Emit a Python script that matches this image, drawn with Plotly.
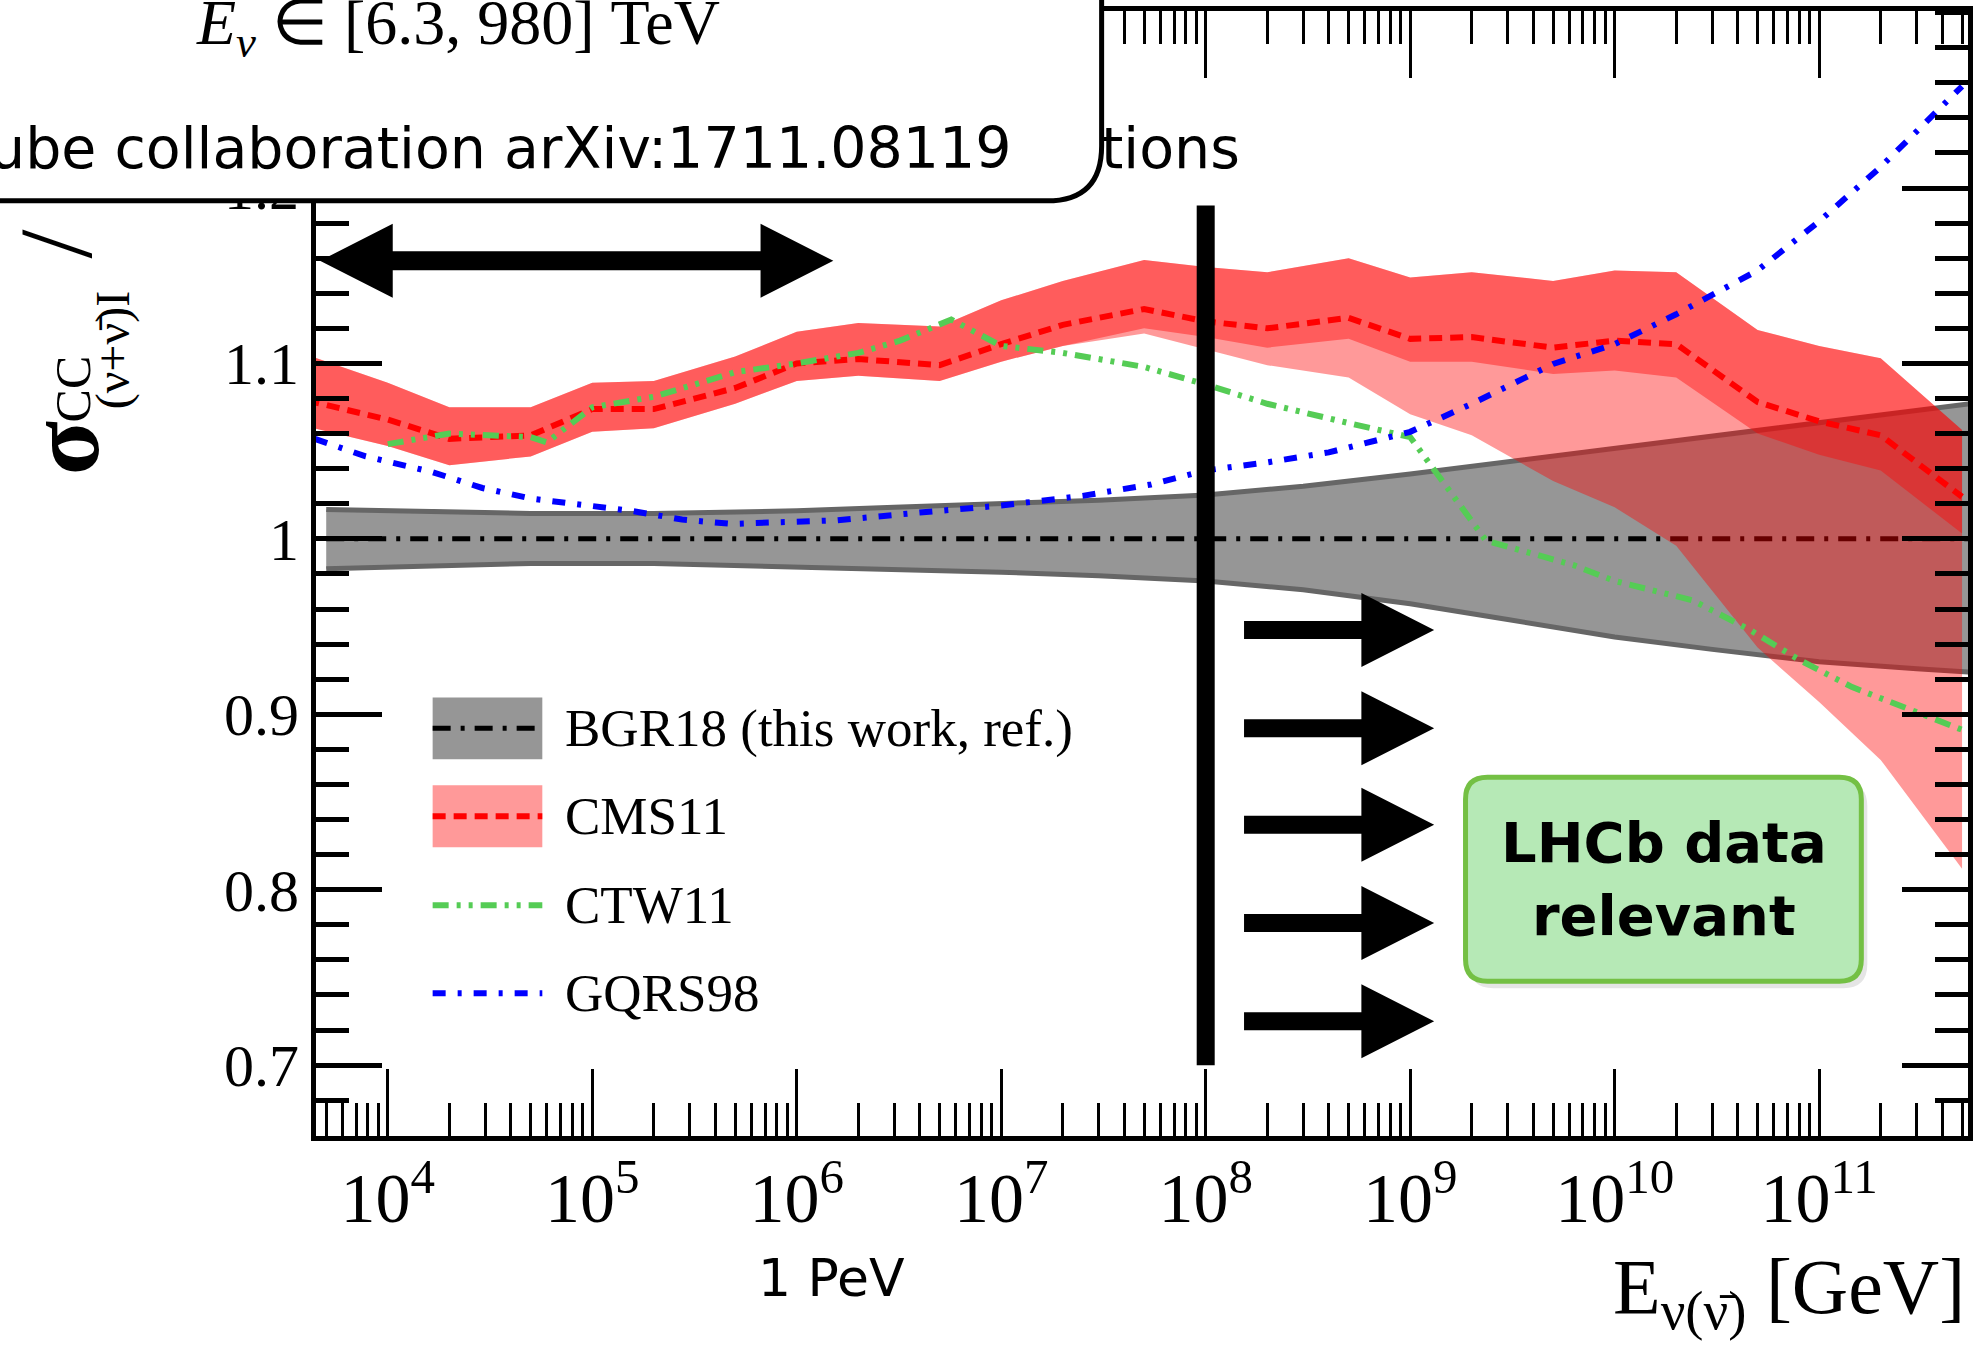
import math
import plotly.graph_objects as go

# ---------------- data ----------------
# BGR18 reference band (ratio to BGR18 central value)
bgr_E = [5e3, 2e4, 5e4, 2e5, 1e6, 3e6, 1e7, 3e7, 1e8, 3e8, 1e9, 3e9, 1e10, 3e10, 1e11, 3e11, 5.5e11]
bgr_up = [1.0168, 1.0155, 1.0145, 1.0145, 1.016, 1.018, 1.020, 1.022, 1.025, 1.030, 1.037, 1.044,
          1.052, 1.059, 1.066, 1.073, 1.077]
bgr_lo = [0.983, 0.985, 0.986, 0.986, 0.984, 0.9825, 0.981, 0.979, 0.976, 0.971, 0.963, 0.954,
          0.944, 0.937, 0.930, 0.926, 0.924]
bgr_central = [1.0, 1.0]
bgr_central_E = [5e3, 5.5e11]

# CMS11
cms_E = [4e3, 1e4, 2e4, 5e4, 1e5, 2e5, 5e5, 1e6, 2e6, 5e6, 1e7, 2e7, 5e7, 1e8, 2e8, 5e8,
         1e9, 2e9, 5e9, 1e10, 2e10, 5e10, 1e11, 2e11, 5e11]
cms_central = [1.079, 1.068, 1.057, 1.059, 1.074, 1.074, 1.086, 1.100, 1.1025, 1.099, 1.111, 1.122,
               1.131, 1.124, 1.120, 1.126, 1.114, 1.115, 1.109, 1.113, 1.111, 1.078, 1.067, 1.059, 1.024]
cms_up = [1.105, 1.089, 1.075, 1.075, 1.089, 1.090, 1.104, 1.118, 1.123, 1.121, 1.136, 1.147,
          1.159, 1.155, 1.152, 1.160, 1.149, 1.152, 1.147, 1.153, 1.152, 1.119, 1.110, 1.103, 1.062]
cms_lo_inner = [1.064, 1.053, 1.042, 1.047, 1.061, 1.063, 1.077, 1.090, 1.093, 1.090, 1.101, 1.110,
                1.120, 1.115, 1.109, 1.114, 1.101, 1.101, 1.094, 1.096, 1.092, 1.060, 1.048, 1.039, 1.003]
cms_lo_outer = [1.064, 1.053, 1.042, 1.047, 1.061, 1.063, 1.077, 1.090, 1.093, 1.090, 1.101, 1.110,
                1.117, 1.108, 1.099, 1.092, 1.071, 1.059, 1.033, 1.018, 0.996, 0.938, 0.907, 0.874, 0.812]

# CTW11
ctw_E = [1e4, 2e4, 5e4, 6e4, 1e5, 2e5, 5e5, 1e6, 2e6, 3.2e6, 5.7e6, 1e7, 2e7, 5e7, 1e8, 2e8, 5e8,
         1e9, 2.35e9, 3.5e9, 6.3e9, 1e10, 2.4e10, 4.6e10, 8e10, 1.45e11, 2.7e11, 5.3e11]
ctw_ratio = [1.054, 1.060, 1.058, 1.055, 1.075, 1.081, 1.095, 1.100, 1.106, 1.113, 1.125, 1.110,
             1.106, 1.098, 1.088, 1.077, 1.066, 1.058, 0.999, 0.993, 0.985, 0.976, 0.965, 0.948,
             0.931, 0.9155, 0.903, 0.890]

# GQRS98
gqrs_E = [4.4e3, 7.8e3, 1.66e4, 2.9e4, 5e4, 8.9e4, 1.55e5, 2.75e5, 4.8e5, 8.3e5, 1.55e6, 4e6,
          1e7, 2.5e7, 5.4e7, 1e8, 2e8, 4e8, 1e9, 2e9, 5e9, 1e10, 2e10, 5e10, 1e11, 2e11, 5e11]
gqrs_ratio = [1.057, 1.047, 1.038, 1.029, 1.023, 1.019, 1.016, 1.011, 1.0085, 1.0095, 1.0105, 1.015,
              1.019, 1.0245, 1.031, 1.039, 1.0436, 1.0493, 1.061, 1.077, 1.0997, 1.111, 1.128,
              1.153, 1.181, 1.212, 1.258]

# decorations (data coordinates)
cut_E = 1e8
cut_y = [0.70, 1.19]
lhcb_arrow_E = [1.54e8, 1.31e9]          # tail, tip
lhcb_arrow_y = [0.948, 0.892, 0.837, 0.781, 0.725]
icecube_arrow_E = [4.66e3, 1.51e6]       # left tip, right tip
icecube_arrow_y = 1.1585

y_ticks = [0.7, 0.8, 0.9, 1.0, 1.1, 1.2]
y_ticktext = ["0.7", "0.8", "0.9", "1", "1.1", "1.2"]
legend_names = ["BGR18 (this work, ref.)", "CMS11", "CTW11", "GQRS98"]

# ---------------- geometry helpers ----------------
W, H = 1979, 1347
L, R, T, B = 316, 1973, 10, 1136
XR = [3.649, 11.728]
YR = [0.6596, 1.3009]


def lx2px(lx):
    return L + (lx - XR[0]) / (XR[1] - XR[0]) * (R - L)


def v2px(v):
    return T + (YR[1] - v) / (YR[1] - YR[0]) * (B - T)


def px2E(xf):
    return 10 ** (XR[0] + (xf - L) / (R - L) * (XR[1] - XR[0]))


def px2v(yf):
    return YR[1] - (yf - T) / (B - T) * (YR[1] - YR[0])


def px(xf):
    return (xf - L) / (R - L)


def py(yf):
    return (B - yf) / (B - T)


GRAY = "#969696"
EDGE = "#666666"
RED_A = "rgba(255,0,0,0.4)"
GREEN = "#55cc55"
BLUE = "#0000ff"
SERIF = "Liberation Serif"
SANS = "DejaVu Sans"

DASH_BGR = "18px,10px,4px,10px"
DASH_CMS = "13px,8px"
DASH_CTW = "16px,8px,4px,8px,4px,8px"
DASH_GQRS = "13px,12px,4px,12px"

fig = go.Figure()

# BGR18 band
fig.add_trace(go.Scatter(x=bgr_E, y=bgr_lo, mode="lines", line=dict(color=EDGE, width=5),
                         showlegend=False, hoverinfo="skip"))
fig.add_trace(go.Scatter(x=bgr_E, y=bgr_up, mode="lines", line=dict(color=EDGE, width=5),
                         fill="tonexty", fillcolor=GRAY, showlegend=False, hoverinfo="skip"))
fig.add_trace(go.Scatter(x=bgr_central_E, y=bgr_central, mode="lines",
                         line=dict(color="black", width=5, dash=DASH_BGR),
                         showlegend=False, hoverinfo="skip"))

# CMS11 band (two overlapping translucent layers)
fig.add_trace(go.Scatter(x=cms_E, y=cms_lo_outer, mode="lines", line=dict(width=0),
                         showlegend=False, hoverinfo="skip"))
fig.add_trace(go.Scatter(x=cms_E, y=cms_up, mode="lines", line=dict(width=0),
                         fill="tonexty", fillcolor=RED_A, showlegend=False, hoverinfo="skip"))
fig.add_trace(go.Scatter(x=cms_E, y=cms_lo_inner, mode="lines", line=dict(width=0),
                         showlegend=False, hoverinfo="skip"))
fig.add_trace(go.Scatter(x=cms_E, y=cms_up, mode="lines", line=dict(width=0),
                         fill="tonexty", fillcolor=RED_A, showlegend=False, hoverinfo="skip"))
fig.add_trace(go.Scatter(x=cms_E, y=cms_central, mode="lines",
                         line=dict(color="red", width=6, dash=DASH_CMS),
                         showlegend=False, hoverinfo="skip"))

# CTW11 & GQRS98
fig.add_trace(go.Scatter(x=ctw_E, y=ctw_ratio, mode="lines",
                         line=dict(color=GREEN, width=6, dash=DASH_CTW),
                         showlegend=False, hoverinfo="skip"))
fig.add_trace(go.Scatter(x=gqrs_E, y=gqrs_ratio, mode="lines",
                         line=dict(color=BLUE, width=6, dash=DASH_GQRS),
                         showlegend=False, hoverinfo="skip"))

# vertical cut line
fig.add_trace(go.Scatter(x=[cut_E, cut_E], y=cut_y, mode="lines",
                         line=dict(color="black", width=18), showlegend=False, hoverinfo="skip"))


def add_poly(pts_px):
    xs = [px2E(p[0]) for p in pts_px]
    ys = [px2v(p[1]) for p in pts_px]
    fig.add_trace(go.Scatter(x=xs, y=ys, mode="lines", fill="toself", fillcolor="black",
                             line=dict(width=0, color="black"), showlegend=False, hoverinfo="skip"))


# LHCb arrows
x0 = lx2px(math.log10(lhcb_arrow_E[0]))
x1 = lx2px(math.log10(lhcb_arrow_E[1]))
hl, s, hh = 73, 9, 37
for yv in lhcb_arrow_y:
    y = v2px(yv)
    add_poly([(x0, y - s), (x1 - hl, y - s), (x1 - hl, y - hh), (x1, y), (x1 - hl, y + hh),
              (x1 - hl, y + s), (x0, y + s)])

# IceCube double arrow
xa = lx2px(math.log10(icecube_arrow_E[0]))
xb = lx2px(math.log10(icecube_arrow_E[1]))
y = v2px(icecube_arrow_y)
s2 = 9.5
add_poly([(xa, y), (xa + hl, y - hh), (xa + hl, y - s2), (xb - hl, y - s2), (xb - hl, y - hh),
          (xb, y), (xb - hl, y + hh), (xb - hl, y + s2), (xa + hl, y + s2), (xa + hl, y + hh)])


def P(a, b):
    return f"{px(a):.5f},{py(b):.5f}"


def rrect_path(x0, y0, x1, y1, r):
    return (f"M{P(x0 + r, y0)} L{P(x1 - r, y0)} Q{P(x1, y0)} {P(x1, y0 + r)} "
            f"L{P(x1, y1 - r)} Q{P(x1, y1)} {P(x1 - r, y1)} L{P(x0 + r, y1)} "
            f"Q{P(x0, y1)} {P(x0, y1 - r)} L{P(x0, y0 + r)} Q{P(x0, y0)} {P(x0 + r, y0)} Z")


shapes = []

# Top-left info box (covers part of the frame)
r = 55
box_path = (f"M{P(-20, -20)} L{P(1104, -20)} L{P(1104, 200 - r)} Q{P(1104, 200)} {P(1104 - r, 200)} "
            f"L{P(-20, 200)} Z")
shapes.append(dict(type="path", xref="paper", yref="paper", path=box_path, fillcolor="white",
                   line=dict(color="black", width=5), layer="above"))

# LHCb box with soft shadow
shapes.append(dict(type="path", xref="paper", yref="paper",
                   path=rrect_path(1473, 782, 1872, 988, 24), fillcolor="rgba(0,0,0,0.10)",
                   line=dict(width=0), layer="above"))
shapes.append(dict(type="path", xref="paper", yref="paper",
                   path=rrect_path(1469, 777, 1866, 981, 22), fillcolor="#b6e9b6",
                   line=dict(color="#74c044", width=5), layer="above"))

# legend symbols
lx0, lx1 = 433, 543
leg_y = [728, 816, 905, 993]
shapes.append(dict(type="rect", xref="paper", yref="paper", x0=px(lx0), x1=px(lx1),
                   y0=py(697), y1=py(759), fillcolor=GRAY, line=dict(width=0), layer="above"))
shapes.append(dict(type="rect", xref="paper", yref="paper", x0=px(lx0), x1=px(lx1),
                   y0=py(785), y1=py(847), fillcolor="#ff9999", line=dict(width=0), layer="above"))
for yy, col, dash, w in zip(leg_y, ["black", "red", GREEN, BLUE],
                            [DASH_BGR, DASH_CMS, DASH_CTW, DASH_GQRS], [5, 6, 6, 6]):
    shapes.append(dict(type="line", xref="paper", yref="paper", x0=px(lx0), x1=px(lx1),
                       y0=py(yy), y1=py(yy), line=dict(color=col, width=w, dash=dash), layer="above"))

annotations = []
for name, yy in zip(legend_names, leg_y):
    annotations.append(dict(xref="paper", yref="paper", x=px(564), y=py(yy), text=name,
                            showarrow=False, xanchor="left", yanchor="middle",
                            font=dict(family=SERIF, size=53, color="black")))

# box texts
annotations.append(dict(xref="paper", yref="paper", x=px(458), y=py(26),
                        text="<i>E</i><sub><i>ν</i></sub> ∈ [6.3, 980] TeV", showarrow=False,
                        xanchor="center", yanchor="middle",
                        font=dict(family=SERIF, size=64, color="black")))
annotations.append(dict(xref="paper", yref="paper", x=px(1016), y=py(147),
                        text="IceCube collaboration arXiv:1711.08119", showarrow=False,
                        xanchor="right", yanchor="middle",
                        font=dict(family=SANS, size=57, color="black")))
annotations.append(dict(xref="paper", yref="paper", x=px(1101), y=py(147), text="tions",
                        showarrow=False, xanchor="left", yanchor="middle",
                        font=dict(family=SANS, size=57, color="black")))

# LHCb text
annotations.append(dict(xref="paper", yref="paper", x=px(1668), y=py(879),
                        text="<b>LHCb data</b><br><b>relevant</b>", showarrow=False,
                        xanchor="center", yanchor="middle", align="center",
                        font=dict(family=SANS, size=56, color="black")))

# x-axis annotations
annotations.append(dict(xref="paper", yref="paper", x=px(833), y=py(1278), text="1 PeV",
                        showarrow=False, xanchor="center", yanchor="middle",
                        font=dict(family=SANS, size=52, color="black")))
annotations.append(dict(xref="paper", yref="paper", x=px(1972), y=py(1292),
                        text="E<sub>ν(ν̄)</sub> [GeV]", showarrow=False,
                        xanchor="right", yanchor="middle",
                        font=dict(family=SERIF, size=78, color="black")))

# y-axis title pieces (rotated)
annotations.append(dict(xref="paper", yref="paper", x=px(64), y=py(448), text="<b>σ</b>",
                        showarrow=False, textangle=-90, xanchor="center", yanchor="middle",
                        font=dict(family=SERIF, size=100, color="black")))
annotations.append(dict(xref="paper", yref="paper", x=px(72), y=py(388), text="CC",
                        showarrow=False, textangle=-90, xanchor="center", yanchor="middle",
                        font=dict(family=SERIF, size=50, color="black")))
annotations.append(dict(xref="paper", yref="paper", x=px(112), y=py(350), text="(ν+ν̄)I",
                        showarrow=False, textangle=-90, xanchor="center", yanchor="middle",
                        font=dict(family=SERIF, size=48, color="black")))
annotations.append(dict(xref="paper", yref="paper", x=px(55), y=py(243), text="/",
                        showarrow=False, textangle=-90, xanchor="center", yanchor="middle",
                        font=dict(family=SERIF, size=104, color="black")))

fig.update_layout(
    width=W, height=H,
    margin=dict(l=L, r=W - R, t=T, b=H - B, pad=0),
    paper_bgcolor="white", plot_bgcolor="white",
    showlegend=False,
    shapes=shapes, annotations=annotations,
    xaxis=dict(type="log", range=XR, showgrid=False, zeroline=False,
               showline=True, linecolor="black", linewidth=5, mirror="ticks",
               ticks="inside", ticklen=67, tickwidth=3, tickcolor="black",
               dtick=1, exponentformat="power", showexponent="all",
               tickfont=dict(family=SERIF, size=56, color="black"),
               minor=dict(ticks="inside", ticklen=33, tickwidth=3, tickcolor="black",
                          dtick="D1", showgrid=False)),
    yaxis=dict(range=YR, showgrid=False, zeroline=False,
               showline=True, linecolor="black", linewidth=5, mirror="ticks",
               ticks="inside", ticklen=66, tickwidth=5, tickcolor="black",
               tickvals=y_ticks, ticktext=y_ticktext,
               tickfont=dict(family=SERIF, size=60, color="black"),
               minor=dict(ticks="inside", ticklen=33, tickwidth=5, tickcolor="black",
                          dtick=0.02, tick0=0, showgrid=False)),
)

fig.write_html("out.html")
